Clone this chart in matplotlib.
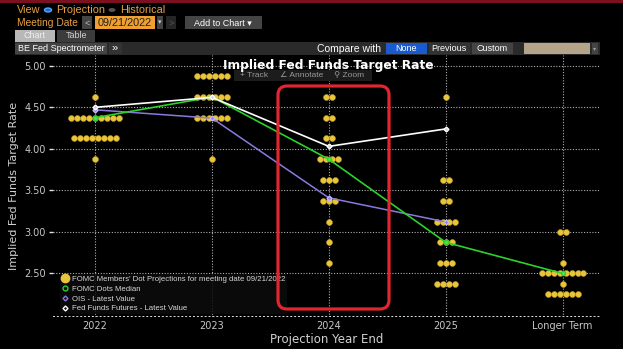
import matplotlib
matplotlib.use("Agg")
import matplotlib.pyplot as plt
from matplotlib.patches import Rectangle, FancyBboxPatch, Circle
from matplotlib.lines import Line2D
from matplotlib.transforms import IdentityTransform

# FOMC dot plot, September 2022 meeting
categories = ["2022", "2023", "2024", "2025", "Longer Term"]
dot_levels = [
    [4.625, 4.375, 4.125, 3.875],
    [4.875, 4.625, 4.375, 3.875],
    [4.625, 4.375, 4.125, 3.875, 3.625, 3.375, 3.125, 2.875, 2.625],
    [4.625, 3.625, 3.375, 3.125, 2.875, 2.625, 2.375],
    [3.0, 2.625, 2.5, 2.375, 2.25],
]
dot_counts = [
    [1, 9, 8, 1],
    [6, 6, 6, 1],
    [2, 2, 2, 4, 3, 3, 1, 1, 1],
    [1, 2, 2, 4, 3, 3, 4],
    [2, 1, 8, 1, 6],
]
median = [4.375, 4.625, 3.875, 2.875, 2.5]
ois = [4.47, 4.37, 3.41, 3.12]
ff_futures = [4.50, 4.62, 4.03, 4.24]
yticks = [2.5, 3.0, 3.5, 4.0, 4.5, 5.0]

FAMS = ["Liberation Sans", "DejaVu Sans"]

W, H = 623, 349
fig = plt.figure(figsize=(W / 100, H / 100), dpi=100)
fig.patch.set_facecolor("black")

def fx(x):
    return x / W

def fy(y):
    return 1 - y / H

def box(x0, y0, x1, y1, color, z=1):
    fig.add_artist(Rectangle((fx(x0), fy(y1)), (x1 - x0) / W, (y1 - y0) / H,
                             transform=fig.transFigure, facecolor=color,
                             edgecolor="none", zorder=z))

def label(x, y, s, color="white", size=6.5, ha="left", z=5, **kw):
    fig.text(fx(x), fy(y), s, color=color, fontsize=size, ha=ha, va="center",
             family=FAMS, zorder=z, **kw)

# header strip
amber = "#e8a040"
box(0, 0, 623, 3, "#7a1020")
label(17, 10, "View", amber, 7.8)
fig.add_artist(Circle((fx(48), fy(10)), 3.5 / W, transform=fig.transFigure,
                      facecolor="#1a6ad8", edgecolor="#5aa0ff", zorder=5))
label(56, 10, "Projection", amber, 7.8)
fig.add_artist(Circle((fx(112), fy(10)), 3.5 / W, transform=fig.transFigure,
                      facecolor="#555555", edgecolor="none", zorder=5))
label(120, 10, "Historical", amber, 7.8)

label(17, 23, "Meeting Date", amber, 7.4)
box(82, 16, 92, 29, "#444444")
label(87, 23, "<", "#bbbbbb", 6.5, ha="center")
box(95, 16, 155, 29, "#f0a030")
label(125, 23, "09/21/2022", "#202020", 7.8, ha="center")
box(157, 16, 163, 29, "#444444")
label(160, 23, "▾", "#cccccc", 5, ha="center")
box(166, 16, 176, 29, "#262626")
label(171, 23, ">", "#555555", 6.5, ha="center")
box(185, 16, 262, 29, "#444444")
label(223, 23, "Add to Chart ▾", "white", 6.5, ha="center")

box(15, 30, 55, 42, "#b8b8b8")
label(35, 36, "Chart", "#f0f0f0", 6.5, ha="center")
box(57, 30, 95, 42, "#3c3c3c")
label(76, 36, "Table", "#d0d0d0", 6.5, ha="center")

box(15, 42, 600, 55, "#2a2a2a")
box(15, 43, 107, 54, "#444444")
label(61, 48.5, "BE Fed Spectrometer", "white", 6.5, ha="center")
box(109, 43, 122, 54, "#333333")
label(115, 48.5, "»", "white", 8, ha="center")
label(349, 48.5, "Compare with", "white", 7.5, ha="center")
box(386, 43, 427, 54, "#1a5ad0")
label(406, 48.5, "None", "white", 6.5, ha="center")
box(429, 43, 470, 54, "#333333")
label(449, 48.5, "Previous", "white", 6.5, ha="center")
box(472, 43, 513, 54, "#444444")
label(492, 48.5, "Custom", "white", 6.5, ha="center")
box(524, 43, 590, 54, "#b3a48a")
box(592, 43, 598, 54, "#444444")
label(595, 48.5, "▾", "#999999", 4.5, ha="center")

# plot area
ax = fig.add_axes([fx(53), fy(317), (600 - 53) / W, (317 - 55) / H])
ax.set_facecolor("black")
ax.set_xlim(-0.36, 4.32)
ax.set_ylim(1.976, 5.13)

grid_kw = dict(color="#b0b0b0", lw=0.8, ls=(0, (1, 1.5)), zorder=1)
for v in yticks:
    ax.axhline(v, **grid_kw)
for i in range(len(categories)):
    ax.axvline(i, **grid_kw)
ax.axhline(1.976, color="#e0e0e0", lw=1.4, ls=(0, (1, 1)), zorder=1)

# dots, centred in rows around each category
step = 0.051
for i, (levels, counts) in enumerate(zip(dot_levels, dot_counts)):
    xs, ys = [], []
    for lv, n in zip(levels, counts):
        for k in range(n):
            xs.append(i + (k - (n - 1) / 2) * step)
            ys.append(lv)
    ax.scatter(xs, ys, s=18, color="#e8c53a", edgecolors="#b89820",
               linewidths=0.4, zorder=3)

x_all = list(range(len(categories)))
ax.plot(x_all[:len(ois)], ois, color="#8a7ae0", lw=1.1, marker="D", ms=2.5,
        mfc="#8a7ae0", mec="#c0b8ff", zorder=4)
ax.plot(x_all, median, color="#2ad42a", lw=1.2, marker="o", ms=3,
        mfc="#5ae05a", mec="#2ad42a", zorder=5)
ax.plot(x_all[:len(ff_futures)], ff_futures, color="white", lw=1.2, marker="D",
        ms=2.5, mfc="#cccccc", mec="white", zorder=6)

for s in ax.spines.values():
    s.set_visible(False)
ax.set_yticks(yticks)
ax.set_yticklabels([f"{v:.2f}" for v in yticks])
ax.set_xticks(x_all)
ax.set_xticklabels(categories)
ax.tick_params(axis="y", colors="#e0e0e0", labelcolor="#c8c8c8", labelsize=7,
               length=3, width=1, pad=2)
ax.tick_params(axis="x", colors="#e0e0e0", labelcolor="#c8c8c8", labelsize=7,
               length=0, pad=3)
ax.set_xlabel("Projection Year End", color="#d0d0d0", fontsize=8.5, labelpad=1)
ax.set_ylabel("Implied Fed Funds Target Rate", color="#d0d0d0", fontsize=8,
              labelpad=4)

handles = [
    Line2D([], [], ls="none", marker="o", ms=6, mfc="#e8c53a", mec="#e8c53a"),
    Line2D([], [], ls="none", marker="o", ms=3.5, mfc="none", mec="#2ad42a"),
    Line2D([], [], ls="none", marker="D", ms=2.5, mfc="none", mec="#8a7ae0"),
    Line2D([], [], ls="none", marker="D", ms=2.5, mfc="none", mec="white"),
]
names = [
    "FOMC Members' Dot Projections for meeting date 09/21/2022",
    "FOMC Dots Median",
    "OIS - Latest Value",
    "Fed Funds Futures - Latest Value",
]
leg = ax.legend(handles, names, loc="lower left", bbox_to_anchor=(0.012, 0.01),
                prop={"family": FAMS, "size": 5.6}, frameon=True,
                facecolor="#0c0c0c", edgecolor="none", framealpha=0.85,
                handlelength=0.8, handletextpad=0.5, labelspacing=0.3,
                borderpad=0.25, borderaxespad=0)
for t in leg.get_texts():
    t.set_color("#d8d8d8")
leg.set_zorder(7)

fig.text(fx(328), fy(65), "Implied Fed Funds Target Rate", color="white",
         fontsize=8.8, fontweight="bold", ha="center", va="center", zorder=8)
box(234, 70, 372, 81, "#1c1c1c", z=8)
label(240, 75.5, "+ Track", "#9a9a9a", 6, z=9)
label(280, 75.5, "∠ Annotate", "#9a9a9a", 6, z=9)
label(334, 75.5, "⚲ Zoom", "#9a9a9a", 6, z=9)

# highlight box around 2024
fig.add_artist(FancyBboxPatch((278, H - 309), 111, 223,
                              boxstyle="round,pad=0,rounding_size=9",
                              transform=IdentityTransform(), facecolor="none",
                              edgecolor="#e0262e", lw=2.3, zorder=10))

fig.savefig("out.png", dpi=100, facecolor="black")
